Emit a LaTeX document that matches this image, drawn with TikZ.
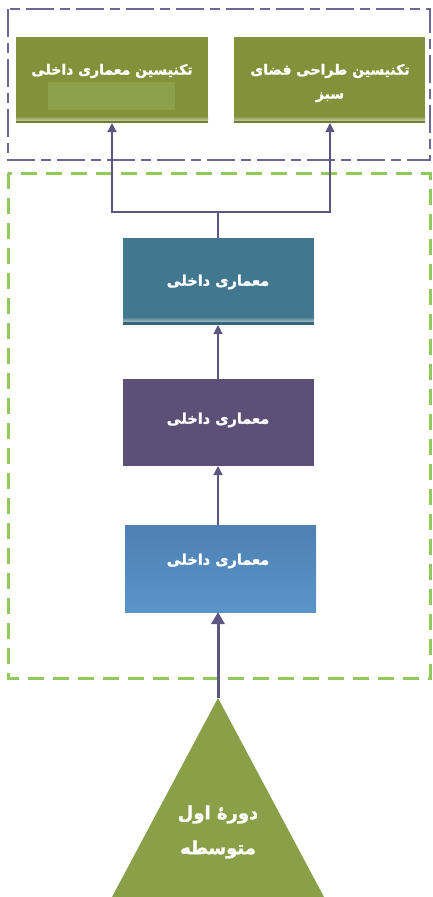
\documentclass[tikz,border=0pt]{standalone}
\usepackage{fontspec}
\newfontfamily\arabicfont[Script=Arabic,BoldFeatures={FakeBold=1.5}]{DejaVu Sans}
\TeXXeTstate=1
\usetikzlibrary{arrows.meta}
\definecolor{boxgreen}{HTML}{83923A}
\definecolor{patchgreen}{HTML}{8C9F4A}
\definecolor{tealbox}{HTML}{41788F}
\definecolor{purpbox}{HTML}{5C5079}
\definecolor{bluetop}{HTML}{4E80B2}
\definecolor{bluebot}{HTML}{5A95C8}
\definecolor{trigreen}{HTML}{8AA048}
\definecolor{linepurple}{HTML}{5E5682}
\definecolor{dashpurple}{HTML}{6E6694}
\definecolor{dashgreen}{HTML}{92C95C}
\begin{document}
\begin{tikzpicture}[x=1pt,y=-1pt,
  boxtext/.style={text=white,font=\arabicfont\bfseries\fontsize{14.5}{19}\selectfont,align=center},
  toptext/.style={text=white,font=\arabicfont\bfseries\fontsize{14}{24}\selectfont,align=center},
  conn/.style={draw=linepurple,line width=1.2pt,-{Triangle[length=9pt,width=9pt]}},
  thickconn/.style={draw=linepurple,line width=3pt,-{Triangle[length=12pt,width=13pt]}}]
\useasboundingbox (0,0) rectangle (432,897);
% dashed frames
\draw[dashpurple,line width=1.2pt,dash pattern=on 28pt off 6pt on 10pt off 6pt] (8,9) rectangle (430,160);
\draw[dashgreen,line width=3pt,dash pattern=on 16pt off 9pt] (8,173) rectangle (430,678);
% top boxes
\fill[boxgreen] (16,37) rectangle (208,123);
\fill[patchgreen] (48,82) rectangle (175,110);
\shade[top color=boxgreen,bottom color=boxgreen!45!white] (16,116) rectangle (208,121);
\fill[boxgreen!85!black] (16,121) rectangle (208,123);
\node[toptext] (tL) at (112,71) {\beginR تکنیسین معماری داخلی\endR};
\coordinate (tLb) at (112,123);
\fill[boxgreen] (234,37) rectangle (425,123);
\shade[top color=boxgreen,bottom color=boxgreen!45!white] (234,116) rectangle (425,121);
\fill[boxgreen!85!black] (234,121) rectangle (425,123);
\node[toptext] (tR) at (330,83) {\beginR تکنیسین طراحی فضای\endR\\\beginR سبز\endR};
\coordinate (tRb) at (330,123);
% teal box
\fill[tealbox] (123,238) rectangle (314,325);
\shade[top color=tealbox,bottom color=tealbox!45!white] (123,317) rectangle (314,322);
\fill[tealbox!85!black] (123,322) rectangle (314,325);
\node[boxtext] (teal) at (218,282) {\beginR معماری داخلی\endR};
\coordinate (tealt) at (218,238);
\coordinate (tealb) at (218,325);
% purple box
\fill[purpbox] (123,379) rectangle (314,466);
\node[boxtext] (purp) at (218,420) {\beginR معماری داخلی\endR};
\coordinate (purpt) at (218,379);
\coordinate (purpb) at (218,466);
% blue box
\shade[top color=bluetop,bottom color=bluebot] (125,525) rectangle (316,612);
\node[boxtext] (blue) at (218,561) {\beginR معماری داخلی\endR};
\coordinate (blueb) at (218,612);
\coordinate (bluet) at (218,525);
% triangle
\fill[trigreen] (218,698) -- (324,897) -- (112,897) -- cycle;
\coordinate (apex) at (218,698);
\node[text=white,font=\arabicfont\bfseries\fontsize{18}{35}\selectfont,align=center] (tri) at (218,832) {\beginR دورهٔ اول\endR\\\beginR متوسطه\endR};
% connectors
\draw[thickconn] (apex) -- (blueb);
\draw[conn] (bluet) -- (purpb);
\draw[conn] (purpt) -- (tealb);
\coordinate (j) at (218,212);
\draw[draw=linepurple,line width=1.2pt] (tealt) -- (j);
\draw[conn] (j) -| (tLb);
\draw[conn] (j) -| (tRb);
\end{tikzpicture}
\end{document}
